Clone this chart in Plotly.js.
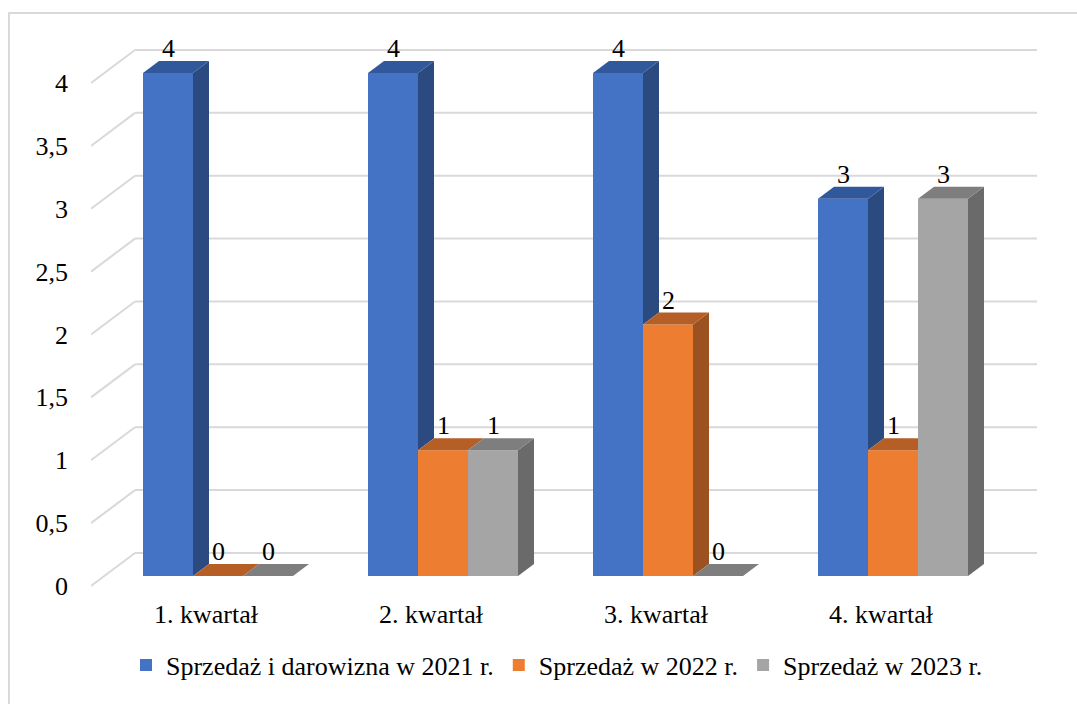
<!DOCTYPE html>
<html><head><meta charset="utf-8">
<script src="https://cdn.plot.ly/plotly-3.0.1.min.js"></script>
<style>
html,body{margin:0;padding:0;background:#fff;overflow:hidden}
#frame{position:absolute;left:8px;top:12px;width:1200px;height:900px;border:2px solid #d9d9d9;box-sizing:border-box}
#chart{position:absolute;left:0;top:0;width:1077px;height:704px}
</style></head><body>
<div id="frame"></div>
<div id="chart"></div>
<script>
// ---- data ----
const categories = ['1. kwartał', '2. kwartał', '3. kwartał', '4. kwartał'];
const seriesNames = ['Sprzedaż i darowizna w 2021 r.', 'Sprzedaż w 2022 r.', 'Sprzedaż w 2023 r.'];
const sales2021 = [4, 4, 4, 3];
const sales2022 = [0, 1, 2, 1];
const sales2023 = [0, 1, 0, 3];
const yTickValues = [0, 0.5, 1, 1.5, 2, 2.5, 3, 3.5, 4];
const yTickLabels = ['0', '0,5', '1', '1,5', '2', '2,5', '3', '3,5', '4'];

// ---- style ----
const seriesValues = [sales2021, sales2022, sales2023];
const frontColors = ['#4472C4', '#ED7D31', '#A5A5A5'];
const topColors = ['#31589B', '#B55F26', '#7E7E7E'];
const sideColors = ['#2B4A7F', '#9B5220', '#6A6A6A'];
const FONT = "'Liberation Serif', 'Times New Roman', serif";
const FS = 26;

const W = 1077, H = 704;
const L = 91, R = 1037, T = 40, B = 590;      // plot area in px
const X0 = 206, PXC = 225;                    // px of category 0 on the front wall, px per category
const Y0 = 586, PXV = 125.75;                 // px of value 0 on the front wall, px per unit
const xr = [(L - X0) / PXC, (R - X0) / PXC];
const yr = [(Y0 - B) / PXV, (Y0 - T) / PXV];
const WALL_DX = 44 / PXC, WALL_DY = 33 / PXV;
const FRONT_DX = 12 / PXC, FRONT_DY = 10 / PXV;
const BAR_DX = 16 / PXC, BAR_DY = 12 / PXV;
const BAR_W = 50 / PXC;
const offsets = [0, 1, 2].map(k => (-75 + 50 * k) / PXC + FRONT_DX);

const traces = [];
// front faces (bar layer, drawn first)
seriesValues.forEach((vals, k) => {
  traces.push({
    type: 'bar', name: seriesNames[k],
    x: categories.map((c, i) => i), y: vals,
    base: FRONT_DY, offset: offsets[k], width: BAR_W,
    marker: {color: frontColors[k], line: {width: 0}},
    hoverinfo: 'y'
  });
});
// side and top faces, hidden parts removed where the next front face covers them
seriesValues.forEach((vals, k) => {
  vals.forEach((v, i) => {
    const x0 = i + offsets[k], x1 = x0 + BAR_W;
    const b = FRONT_DY, t = FRONT_DY + v;
    const next = k < seriesValues.length - 1 ? seriesValues[k + 1][i] : null;
    if (next === null || next < v) {
      const sb = next === null ? b : FRONT_DY + next;
      traces.push({
        type: 'scatter', mode: 'lines', fill: 'toself', fillcolor: sideColors[k],
        line: {width: 0, color: sideColors[k]}, hoverinfo: 'skip', showlegend: false,
        x: [x1, x1, x1 + BAR_DX, x1 + BAR_DX, x1],
        y: [sb, t, t + BAR_DY, sb + BAR_DY, sb]
      });
    }
    const clipTop = next !== null && next > v;
    traces.push({
      type: 'scatter', mode: 'lines', fill: 'toself', fillcolor: topColors[k],
      line: {width: 0, color: topColors[k]}, hoverinfo: 'skip', showlegend: false,
      x: clipTop ? [x0, x1, x1, x0 + BAR_DX, x0] : [x0, x1, x1 + BAR_DX, x0 + BAR_DX, x0],
      y: [t, t, t + BAR_DY, t + BAR_DY, t]
    });
  });
});

const shapes = [];
yTickValues.forEach(v => {
  shapes.push({type: 'line', xref: 'x', yref: 'y', layer: 'below',
    x0: xr[0] + WALL_DX, x1: xr[1], y0: v + WALL_DY, y1: v + WALL_DY,
    line: {color: '#d9d9d9', width: 2}});
  shapes.push({type: 'line', xref: 'x', yref: 'y', layer: 'below',
    x0: xr[0], x1: xr[0] + WALL_DX, y0: v, y1: v + WALL_DY,
    line: {color: '#d9d9d9', width: 2}});
});

const annotations = [];
seriesValues.forEach((vals, k) => {
  vals.forEach((v, i) => {
    annotations.push({
      xref: 'x', yref: 'y', x: i + offsets[k] + BAR_W / 2, y: FRONT_DY + v + BAR_DY,
      text: String(v), showarrow: false, yanchor: 'bottom', xanchor: 'center', yshift: -4,
      font: {family: FONT, size: FS, color: '#000'}
    });
  });
});

const layout = {
  width: W, height: H,
  margin: {l: L, r: W - R, t: T, b: H - B, pad: 0},
  paper_bgcolor: 'rgba(0,0,0,0)', plot_bgcolor: 'rgba(0,0,0,0)',
  barmode: 'overlay',
  font: {family: FONT, size: FS, color: '#000'},
  xaxis: {range: xr, tickvals: [0, 1, 2, 3], ticktext: categories, showgrid: false,
    zeroline: false, showline: false, ticks: '', ticklabelstandoff: 6, fixedrange: true,
    tickfont: {family: FONT, size: FS, color: '#000'}},
  yaxis: {range: yr, tickvals: yTickValues, ticktext: yTickLabels, showgrid: false,
    zeroline: false, showline: false, ticks: '', ticklabelstandoff: 22, fixedrange: true,
    tickfont: {family: FONT, size: FS, color: '#000'}},
  showlegend: true,
  legend: {orientation: 'h', xref: 'container', yref: 'container', x: 557 / W, xanchor: 'center',
    y: 1 - 665 / H, yanchor: 'middle', font: {family: FONT, size: FS, color: '#000'},
    itemwidth: 30, traceorder: 'normal', bgcolor: 'rgba(0,0,0,0)'},
  shapes: shapes,
  annotations: annotations
};

Plotly.newPlot('chart', traces, layout, {displayModeBar: false, staticPlot: true});
</script>
</body></html>
